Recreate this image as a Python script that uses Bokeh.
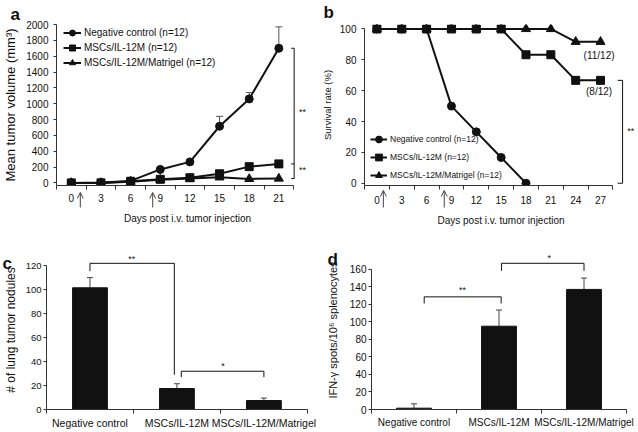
from bokeh.plotting import figure
from bokeh.models import (ColumnDataSource, Whisker, TeeHead, Legend, LegendItem,
                          FixedTicker, Range1d, Arrow, OpenHead)
from bokeh.layouts import row, column
from bokeh.embed import file_html
from bokeh.resources import INLINE
from bokeh.core.properties import value

FONT = "Liberation Sans"
INK = "#111111"
LEG_FIX = 5  # legend vertical correction (px)

# ---------------- data ----------------
# panel a: tumor growth
days_a = [0, 3, 6, 9, 12, 15, 18, 21]
tumor_neg = [0, 5, 25, 170, 265, 715, 1060, 1700]
tumor_neg_err = [0, 0, 0, 0, 0, 125, 80, 270]
tumor_il12 = [0, 0, 20, 45, 65, 115, 205, 240]
tumor_mat = [0, 0, 15, 40, 55, 70, 50, 55]
yticks_a = [0, 200, 400, 600, 800, 1000, 1200, 1400, 1600, 1800, 2000]
series_labels = ["Negative control (n=12)", "MSCs/IL-12M (n=12)", "MSCs/IL-12M/Matrigel (n=12)"]
injection_days = [1, 8.3]

# panel b: survival
days_b = [0, 3, 6, 9, 12, 15, 18, 21, 24, 27]
surv_neg = [100, 100, 100, 50, 33.3, 16.7, 0]
surv_il12 = [100, 100, 100, 100, 100, 100, 83.3, 83.3, 66.7, 66.7]
surv_mat = [100, 100, 100, 100, 100, 100, 100, 100, 91.7, 91.7]
yticks_b = [0, 20, 40, 60, 80, 100]
surv_notes = ["(11/12)", "(8/12)"]

# panels c / d: bars
groups = ["Negative control", "MSCs/IL-12M", "MSCs/IL-12M/Matrigel"]
nodules = [101.5, 17.5, 7.5]
nodules_err = [8.5, 4.0, 2.0]
yticks_c = [0, 20, 40, 60, 80, 100, 120]
ifn_spots = [1.5, 95, 137]
ifn_err = [5.0, 18.5, 13.0]
yticks_d = [0, 20, 40, 60, 80, 100, 120, 140, 160]
panel_letters = ["a", "b", "c", "d"]

# ---------------- geometry (px) ----------------
W_L, W_R, H_T, H_B = 318, 319, 228, 203


def base_fig(w, h, xr, yr, ml, mt, mb):
    p = figure(width=w, height=h, x_range=Range1d(*xr), y_range=Range1d(*yr),
               output_backend="svg", toolbar_location=None,
               min_border_left=ml, min_border_right=0, min_border_top=mt, min_border_bottom=mb)
    p.outline_line_color = None
    p.xgrid.visible = False
    p.ygrid.visible = False
    p.background_fill_color = "white"
    p.border_fill_color = "white"
    for ax in (p.xaxis[0], p.yaxis[0]):
        ax.axis_line_color = "#333333"
        ax.axis_line_width = 1
        ax.major_tick_line_color = "#333333"
        ax.minor_tick_line_color = "#333333"
        ax.major_label_text_font = FONT
        ax.major_label_text_color = INK
        ax.axis_label_text_font = FONT
        ax.axis_label_text_font_style = "normal"
        ax.axis_label_text_color = INK
    y = p.yaxis[0]
    y.major_tick_out = 3
    y.major_tick_in = 0
    y.minor_tick_out = 0
    x = p.xaxis[0]
    x.major_tick_out = 0
    x.major_tick_in = 0
    x.minor_tick_out = 4
    x.minor_tick_in = 0
    return p


def stars(p, xs, ys, texts, size="9px"):
    p.text(x=xs, y=ys, text=texts, text_font=value(FONT), text_font_size=size,
           text_align="center", text_baseline="middle", text_color=INK)


# ---------------- panel a ----------------
ML_A, MT_A, MB_A = 55, 24, 37
ppd_a = 9.92
xa = (-1.5, -1.5 + (W_L - ML_A) / ppd_a)
ya = (-33, 2000)
pa = base_fig(W_L, H_T, xa, ya, ML_A, MT_A, MB_A)
pa.yaxis[0].ticker = FixedTicker(ticks=yticks_a)
pa.yaxis[0].major_label_text_font_size = "10px"
pa.yaxis[0].major_label_standoff = 5
pa.yaxis[0].axis_label = "Mean tumor volume (mm³)"
pa.yaxis[0].axis_label_text_font_size = "13px"
pa.yaxis[0].axis_label_standoff = 5
pa.xaxis[0].ticker = FixedTicker(ticks=days_a,
                                 minor_ticks=[d - 1.5 for d in days_a] + [days_a[-1] + 1.5])
pa.xaxis[0].bounds = (-1.5, 22.5)
pa.xaxis[0].major_label_text_font_size = "10px"
pa.xaxis[0].major_label_standoff = 4
pa.xaxis[0].axis_label = "Days post i.v. tumor injection"
pa.xaxis[0].axis_label_text_font_size = "10px"
pa.xaxis[0].axis_label_standoff = 8

err_idx = [i for i, e in enumerate(tumor_neg_err) if e > 0]
src_err_a = ColumnDataSource(dict(x=[days_a[i] for i in err_idx],
                                  lo=[tumor_neg[i] for i in err_idx],
                                  hi=[tumor_neg[i] + tumor_neg_err[i] for i in err_idx]))
pa.add_layout(Whisker(base="x", lower="lo", upper="hi", source=src_err_a, dimension="height",
                      lower_head=None, upper_head=TeeHead(size=7, line_color="#555555", line_width=1),
                      line_color="#555555", line_width=1))

ln_neg = pa.line(days_a, tumor_neg, line_color=INK, line_width=2)
sc_neg = pa.scatter(days_a, tumor_neg, marker="circle", size=8, fill_color=INK, line_color=INK)
ln_mat = pa.line(days_a, tumor_mat, line_color=INK, line_width=2)
sc_mat = pa.scatter(days_a, tumor_mat, marker="triangle", size=9, fill_color=INK, line_color=INK)
ln_il = pa.line(days_a, tumor_il12, line_color=INK, line_width=2)
sc_il = pa.scatter(days_a, tumor_il12, marker="square", size=8, fill_color=INK, line_color=INK)

pa.add_layout(Legend(items=[LegendItem(label=series_labels[0], renderers=[ln_neg, sc_neg]),
                            LegendItem(label=series_labels[1], renderers=[ln_il, sc_il]),
                            LegendItem(label=series_labels[2], renderers=[ln_mat, sc_mat])],
                     location=(7, 120 - LEG_FIX), padding=0, spacing=0, margin=0,
                     glyph_height=15, glyph_width=18, label_height=15, label_standoff=3,
                     label_text_font=FONT, label_text_font_size="10px", label_text_color=INK,
                     background_fill_alpha=0, border_line_color=None))

bx = 22.55
pa.multi_line(xs=[[bx - 0.3, bx, bx, bx - 0.3], [bx - 0.3, bx]],
              ys=[[tumor_neg[-1], tumor_neg[-1], tumor_mat[-1], tumor_mat[-1]],
                  [tumor_il12[-1], tumor_il12[-1]]],
              line_color=INK, line_width=1)
stars(pa, [23.4, 23.4], [900, 160], ["**", "**"])

# ---------------- panel b ----------------
ML_B, MT_B, MB_B = 44, 10, 39
ppd_b = 8.343
xb = (-1.5, -1.5 + (W_R - ML_B) / ppd_b)
yb = (-1.46, 102.9)
pb = base_fig(W_R, H_T, xb, yb, ML_B, MT_B, MB_B)
pb.yaxis[0].ticker = FixedTicker(ticks=yticks_b)
pb.yaxis[0].bounds = (yb[0], 100)
pb.yaxis[0].major_label_text_font_size = "10px"
pb.yaxis[0].major_label_standoff = 5
pb.yaxis[0].axis_label = "Survival rate (%)"
pb.yaxis[0].axis_label_text_font_size = "9.5px"
pb.yaxis[0].axis_label_standoff = 4
pb.xaxis[0].ticker = FixedTicker(ticks=days_b,
                                 minor_ticks=[d - 1.5 for d in days_b] + [days_b[-1] + 1.5])
pb.xaxis[0].bounds = (-1.5, 28.5)
pb.xaxis[0].major_label_text_font_size = "10px"
pb.xaxis[0].major_label_standoff = 6
pb.xaxis[0].axis_label = "Days post i.v. tumor injection"
pb.xaxis[0].axis_label_text_font_size = "10px"
pb.xaxis[0].axis_label_standoff = 8

days_b_neg = days_b[:len(surv_neg)]
lb_neg = pb.line(days_b_neg, surv_neg, line_color=INK, line_width=2)
sb_neg = pb.scatter(days_b_neg, surv_neg, marker="circle", size=8, fill_color=INK, line_color=INK)
lb_mat = pb.line(days_b, surv_mat, line_color=INK, line_width=2)
sb_mat = pb.scatter(days_b, surv_mat, marker="triangle", size=9, fill_color=INK, line_color=INK)
lb_il = pb.line(days_b, surv_il12, line_color=INK, line_width=2)
sb_il = pb.scatter(days_b, surv_il12, marker="square", size=8, fill_color=INK, line_color=INK)

pb.add_layout(Legend(items=[LegendItem(label=series_labels[0], renderers=[lb_neg, sb_neg]),
                            LegendItem(label=series_labels[1], renderers=[lb_il, sb_il]),
                            LegendItem(label=series_labels[2], renderers=[lb_mat, sb_mat])],
                     location=(6, 6 - LEG_FIX), padding=0, spacing=0, margin=0,
                     glyph_height=18, glyph_width=17, label_height=18, label_standoff=3,
                     label_text_font=FONT, label_text_font_size="8.5px", label_text_color=INK,
                     background_fill_alpha=0, border_line_color=None))

pb.text(x=[26.82, 26.82], y=[surv_mat[-1] - 9, surv_il12[-1] - 7.5], text=surv_notes,
        text_font=value(FONT), text_font_size="10px", text_align="center",
        text_baseline="middle", text_color=INK)
bbx = 29.66
pb.multi_line(xs=[[bbx - 0.6, bbx, bbx, bbx - 0.6]],
              ys=[[surv_il12[-1], surv_il12[-1], surv_neg[-1], surv_neg[-1]]],
              line_color=INK, line_width=1)
stars(pb, [30.65], [34], ["**"])

# ---------------- panel c ----------------
xc = list(range(len(groups)))
ML_C, MT_C, MB_C = 39, 22, 18
cw_c = 89.2
pc = base_fig(W_L, H_B, (-0.5, -0.5 + (W_L - ML_C) / cw_c), (0, 132.6), ML_C, MT_C, MB_C)
pc.yaxis[0].ticker = FixedTicker(ticks=yticks_c)
pc.yaxis[0].bounds = (0, 120)
pc.yaxis[0].major_label_text_font_size = "9.5px"
pc.yaxis[0].major_label_standoff = 2
pc.yaxis[0].axis_label = "# of lung tumor nodules"
pc.yaxis[0].axis_label_text_font_size = "12px"
pc.yaxis[0].axis_label_standoff = 5
pc.xaxis[0].ticker = FixedTicker(ticks=xc, minor_ticks=[i - 0.5 for i in xc] + [xc[-1] + 0.5])
pc.xaxis[0].bounds = (-0.5, 2.5)
pc.xaxis[0].major_label_overrides = {i: g for i, g in zip(xc, groups)}
pc.xaxis[0].major_label_text_font_size = "10.5px"
pc.xaxis[0].major_label_standoff = 3
pc.vbar(x=xc, top=nodules, width=0.4, fill_color=INK, line_color=INK)
pc.add_layout(Whisker(base="x", lower="lo", upper="hi", dimension="height",
                      source=ColumnDataSource(dict(x=xc, lo=nodules,
                                                   hi=[v + e for v, e in zip(nodules, nodules_err)])),
                      lower_head=None, upper_head=TeeHead(size=6, line_color="#444444", line_width=1),
                      line_color="#444444", line_width=1))
pc.multi_line(xs=[[0, 0, 0.97, 0.97], [1.05, 1.05, 2, 2]],
              ys=[[115.4, 121.9, 121.9, 29], [27, 31.9, 31.9, 27]],
              line_color=INK, line_width=1)
stars(pc, [0.48, 1.53], [125.5, 36], ["**", "*"])

# ---------------- panel d ----------------
ML_D, MT_D, MB_D = 53, 18, 18
cw_d = 85.0
pd_ = base_fig(W_R, H_B, (-0.5, -0.5 + (W_R - ML_D) / cw_d), (0, 181.4), ML_D, MT_D, MB_D)
pd_.yaxis[0].ticker = FixedTicker(ticks=yticks_d)
pd_.yaxis[0].bounds = (0, 160)
pd_.yaxis[0].major_label_text_font_size = "10px"
pd_.yaxis[0].major_label_standoff = 2
pd_.yaxis[0].axis_label = "IFN-γ spots/10⁶ splenocytes"
pd_.yaxis[0].axis_label_text_font_size = "11px"
pd_.yaxis[0].axis_label_standoff = 8
pd_.xaxis[0].ticker = FixedTicker(ticks=xc, minor_ticks=[i - 0.5 for i in xc] + [xc[-1] + 0.5])
pd_.xaxis[0].bounds = (-0.5, 2.5)
pd_.xaxis[0].major_label_overrides = {i: g for i, g in zip(xc, groups)}
pd_.xaxis[0].major_label_text_font_size = "10px"
pd_.xaxis[0].major_label_standoff = 3
pd_.vbar(x=xc, top=ifn_spots, width=0.41, fill_color=INK, line_color=INK)
pd_.add_layout(Whisker(base="x", lower="lo", upper="hi", dimension="height",
                       source=ColumnDataSource(dict(x=xc, lo=ifn_spots,
                                                    hi=[v + e for v, e in zip(ifn_spots, ifn_err)])),
                       lower_head=None, upper_head=TeeHead(size=6, line_color="#444444", line_width=1),
                       line_color="#444444", line_width=1))
pd_.multi_line(xs=[[0.12, 0.12, 1.025, 1.025], [1.03, 1.03, 2, 2]],
               ys=[[120.9, 128.5, 128.5, 120.9], [158.2, 166.8, 166.8, 158.2]],
               line_color=INK, line_width=1)
stars(pd_, [0.57, 1.59], [136, 173], ["**", "*"])

# ---------------- transparent overlay: panel letters and injection arrows ----------------
W, H = W_L + W_R, H_T + H_B
ov = figure(width=W, height=H, x_range=Range1d(0, W), y_range=Range1d(H, 0),
            x_axis_type=None, y_axis_type=None, output_backend="svg", toolbar_location=None,
            min_border=0, min_border_left=0, min_border_right=0, min_border_top=0, min_border_bottom=0)
ov.grid.visible = False
ov.outline_line_color = None
ov.background_fill_alpha = 0
ov.border_fill_alpha = 0
ov.margin = (-H, 0, 0, 0)

# letter anchors (left, baseline) in page pixels
ov.text(x=[10, 323, 2, 327], y=[13.5, 12, 263, 259], text=panel_letters,
        text_font=value(FONT), text_font_size="17px", text_font_style="bold",
        text_align="left", text_baseline="alphabetic", text_color=INK)


def add_arrows(x_page0, frame_left, x0, ppd, frame_bottom):
    for d in injection_days:
        sx = x_page0 + frame_left + (d - x0) * ppd
        ov.add_layout(Arrow(end=OpenHead(size=6, line_color="#444444", line_width=1),
                            x_start=sx, y_start=207, x_end=sx, y_end=frame_bottom + 1,
                            line_color="#444444", line_width=1))


add_arrows(0, ML_A, xa[0], ppd_a, H_T - MB_A)
add_arrows(W_L, ML_B, xb[0], ppd_b, H_T - MB_B)

layout = column(row(pa, pb), row(pc, pd_), ov)
open("out.html", "w").write(file_html(layout, INLINE))
